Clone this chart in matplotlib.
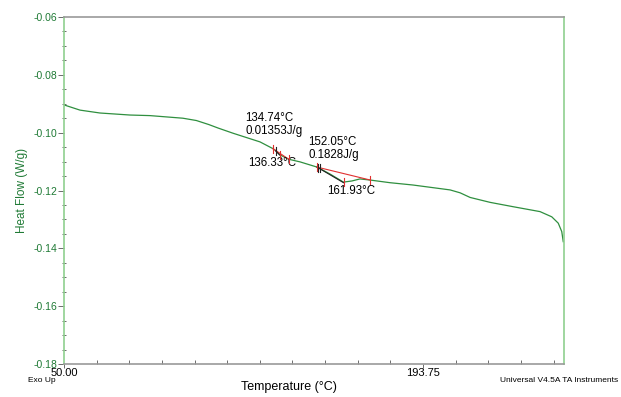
import numpy as np
import matplotlib
matplotlib.use("Agg")
import matplotlib.pyplot as plt

plt.rcParams['font.family'] = ['Liberation Sans', 'DejaVu Sans']

# heat flow trace
temp = [50.0, 56.4, 64.4, 76.4, 84.4, 97.6, 103.0, 108.0, 111.7, 117.7, 128.5,
        133.6, 134.9, 136.5, 140.0, 144.5, 151.3, 156.5, 161.9, 165.3, 168.5,
        172.7, 180.5, 189.7, 204.6, 208.6, 212.6, 220.6, 229.8, 240.6, 245.3,
        247.9, 249.3, 249.9]
heat = [-0.0904, -0.0922, -0.0932, -0.0939, -0.0941, -0.0950, -0.0958, -0.0972,
        -0.0984, -0.1002, -0.1032, -0.1055, -0.1063, -0.1077, -0.1092, -0.1101,
        -0.1119, -0.1143, -0.1171, -0.1167, -0.1160, -0.1164, -0.1173, -0.1181,
        -0.1198, -0.1208, -0.1224, -0.1241, -0.1256, -0.1273, -0.1291, -0.1313,
        -0.1342, -0.1377]

# glass transition analysis
tg_limits = [133.6, 140.0]
tg_limits_y = [-0.1055, -0.1092]
tg_onset = (134.74, -0.1063)
tg_mid = (136.33, -0.1077)

# melting peak analysis
peak_base_t = [151.3, 172.7]
peak_base_y = [-0.1119, -0.1164]
peak_onset = (152.05, -0.1121)
peak_max = (161.93, -0.1171)

green = '#2f8f3f'
txtgreen = '#1f7a35'
red = '#e03030'
dark = '#222222'

fig = plt.figure(figsize=(6.21, 3.97), dpi=100)
ax = fig.add_axes([64/621, 1 - 364/397, 500/621, 347/397])

ax.plot(temp, heat, color=green, lw=0.9, zorder=2)

# tg markers
ax.plot(tg_limits, tg_limits_y, color=red, lw=0.8, zorder=3)
ax.plot([tg_onset[0], tg_mid[0]], [tg_onset[1], tg_mid[1]], color=dark, lw=0.8, zorder=4)
dy = 0.0014
for t, v in zip(tg_limits, tg_limits_y):
    ax.plot([t, t], [v - dy, v + dy], color=red, lw=0.8, zorder=4)
ax.plot([tg_onset[0]] * 2, [tg_onset[1] - dy, tg_onset[1] + dy], color=dark, lw=0.8, zorder=4)
ax.plot([tg_mid[0]] * 2, [tg_mid[1] - dy, tg_mid[1] + dy], color=red, lw=0.8, zorder=4)

# peak markers
ax.plot(peak_base_t, peak_base_y, color=red, lw=0.8, zorder=3)
ax.plot([peak_base_t[0], peak_max[0]], [peak_base_y[0], peak_max[1] - 0.0002], color=dark, lw=0.8, zorder=3)
for t, v in zip(peak_base_t, peak_base_y):
    ax.plot([t, t], [v - dy, v + dy], color=red, lw=0.8, zorder=4)
ax.plot([peak_onset[0] - 0.5] * 2, [peak_onset[1] - dy, peak_onset[1] + dy], color=dark, lw=0.8, zorder=4)
ax.plot([peak_onset[0] + 0.5] * 2, [peak_onset[1] - dy, peak_onset[1] + dy], color=dark, lw=0.8, zorder=4)
ax.plot([peak_max[0]] * 2, [peak_max[1] - dy, peak_max[1] + dy], color=red, lw=0.8, zorder=4)

fs = 8.3
ax.text(122.5, -0.0972, '134.74°C\n0.01353J/g', fontsize=fs, ha='left', va='center', linespacing=1.1)
ax.text(123.7, -0.1106, '136.33°C', fontsize=fs, ha='left', va='center')
ax.text(147.7, -0.1055, '152.05°C\n0.1828J/g', fontsize=fs, ha='left', va='center', linespacing=1.1)
ax.text(155.3, -0.1200, '161.93°C', fontsize=fs, ha='left', va='center')

# axes
ax.set_xlim(50, 250.2)
ax.set_ylim(-0.18, -0.06)
step = 143.75 / 11
ax.set_xticks([50.0, 193.75])
ax.set_xticklabels(['50.00', '193.75'])
ax.set_xticks([50 + k * step for k in range(16) if k not in (0, 11)], minor=True)
ax.set_yticks(np.arange(-0.18, -0.059, 0.02))
ax.set_yticklabels(['%.2f' % v for v in np.arange(-0.18, -0.059, 0.02)])
ax.set_yticks(np.arange(-0.18, -0.059, 0.005), minor=True)

ax.tick_params(axis='x', which='major', direction='out', length=3, width=0.6,
               color='#555555', labelsize=8, pad=0)
ax.tick_params(axis='x', which='minor', direction='in', length=3, width=0.6, color='#555555')
ax.tick_params(axis='y', which='major', direction='out', length=4, width=0.6,
               color='#555555', labelsize=7.5, labelcolor=txtgreen, pad=1)
ax.tick_params(axis='y', which='minor', direction='inout', length=3, width=0.6, color='#555555')

for s in ('left', 'right'):
    ax.spines[s].set_color('#8fcf8f')
    ax.spines[s].set_linewidth(1.2)
for s in ('top', 'bottom'):
    ax.spines[s].set_color('#999999')
    ax.spines[s].set_linewidth(1.2)

ax.set_ylabel('Heat Flow (W/g)', color=txtgreen, fontsize=8.5, labelpad=4)
fig.text(289/621, 1 - 387/397, 'Temperature (°C)', fontsize=9, ha='center', va='center')
fig.text(28/621, 1 - 381/397, 'Exo Up', fontsize=6, ha='left', va='center')
fig.text(618/621, 1 - 381/397, 'Universal V4.5A TA Instruments', fontsize=6, ha='right', va='center')

fig.savefig('out.png', dpi=100)
